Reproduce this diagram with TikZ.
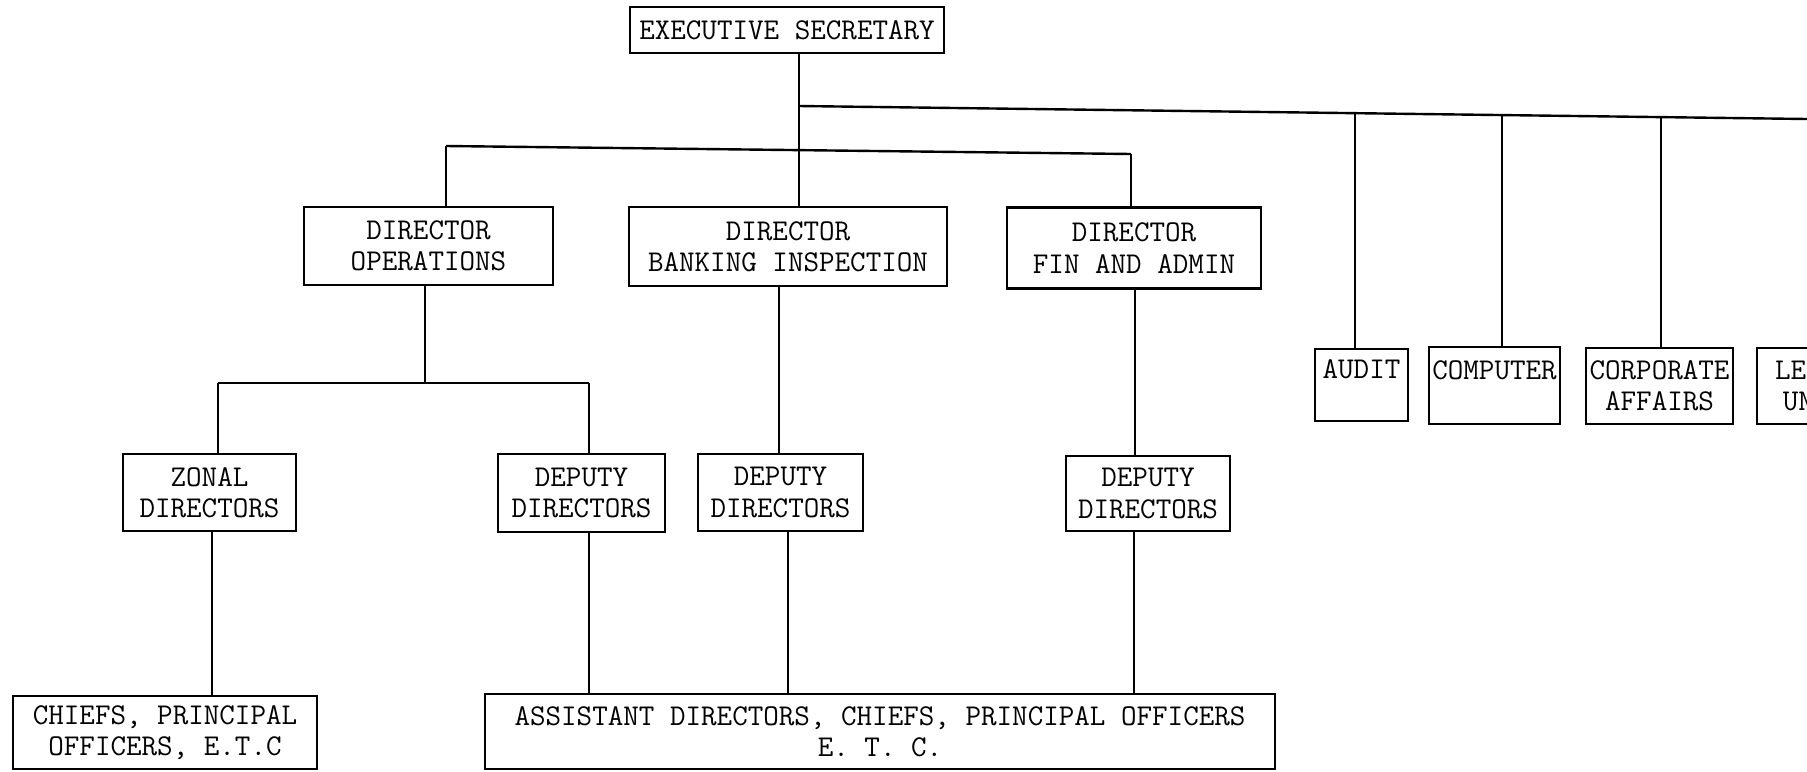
\documentclass[tikz,border=0pt]{standalone}
\begin{document}
\begin{tikzpicture}[x=0.5pt,y=-0.5pt,
  box/.style={draw, line width=1.3pt, inner sep=0pt, align=center,
    font=\ttfamily\fontsize{15.1}{15.6}\selectfont},
  conn/.style={line width=1.2pt}]
\useasboundingbox (0,0) rectangle (1807,771);
\clip (0,0) rectangle (1807,771);
% boxes
\node[box, minimum width=157pt, minimum height=23pt] (exec) at (787,30) {EXECUTIVE SECRETARY};
\node[box, minimum width=124.5pt, minimum height=39pt] (ops) at (428.5,246) {DIRECTOR\\OPERATIONS};
\node[box, minimum width=159pt, minimum height=39.5pt] (bank) at (788,246.5) {DIRECTOR\\BANKING INSPECTION};
\node[box, minimum width=127pt, minimum height=40.5pt] (fin) at (1134,248) {DIRECTOR\\FIN AND ADMIN};
\node[box, minimum width=86.5pt, minimum height=38.5pt] (zonal) at (209.5,492.5) {ZONAL\\DIRECTORS};
\node[box, minimum width=83.5pt, minimum height=39pt] (dep1) at (581.5,493) {DEPUTY\\DIRECTORS};
\node[box, minimum width=82.5pt, minimum height=38.5pt] (dep2) at (780.5,492.5) {DEPUTY\\DIRECTORS};
\node[box, minimum width=82pt, minimum height=37.5pt] (dep3) at (1148,493.5) {DEPUTY\\DIRECTORS};
\node[box, minimum width=152pt, minimum height=36.5pt] (chiefs) at (165,732.5) {CHIEFS, PRINCIPAL\\OFFICERS, E.T.C};
\node[box, minimum width=395pt, minimum height=37.5pt] (assist) at (880,731.5) {ASSISTANT DIRECTORS, CHIEFS, PRINCIPAL OFFICERS\\E. T. C.};
\node[box, minimum width=46.5pt, minimum height=36pt] (audit) at (1361.5,385) {AUDIT\\\phantom{A}};
\node[box, minimum width=65.5pt, minimum height=38.5pt] (comp) at (1494.5,385.5) {COMPUTER\\\phantom{A}};
\node[box, minimum width=73.5pt, minimum height=38pt] (corp) at (1659.5,386) {CORPORATE\\AFFAIRS};
\node[box, minimum width=57pt, minimum height=38pt] (legal) at (1814,386) {LEGAL\\UNIT};
% junction coordinates
\coordinate (j0) at (799,106);
\coordinate (jR) at (1807,119);
\coordinate (ja) at (1355,113);
\coordinate (jc) at (1502,115);
\coordinate (jp) at (1661,117);
\coordinate (jl) at (446,146);
\coordinate (jr) at (1131,154);
\coordinate (jo) at (425,383);
\coordinate (jz) at (218,383);
\coordinate (jd) at (589,383);
% connectors
\draw[conn] (exec.south -| j0) -- (bank.north -| j0);
\draw[conn] (j0) -- (jR);
\draw[conn] (ja) -- (audit.north -| ja);
\draw[conn] (jc) -- (comp.north -| jc);
\draw[conn] (jp) -- (corp.north -| jp);
\draw[conn] (jl) -- (jr);
\draw[conn] (jl) -- (ops.north -| jl);
\draw[conn] (jr) -- (fin.north -| jr);
\draw[conn] (ops.south -| jo) -- (jo);
\draw[conn] (jz) -- (jd);
\draw[conn] (jz) -- (zonal.north -| jz);
\draw[conn] (jd) -- (dep1.north -| jd);
\draw[conn] ([xshift=-4.5pt]bank.south) -- ([xshift=-0.75pt]dep2.north);
\draw[conn] ([xshift=0.5pt]fin.south) -- ([xshift=-6.5pt]dep3.north);
\draw[conn] ([xshift=1.25pt]zonal.south) -- ([xshift=23.5pt]chiefs.north);
\draw[conn] ([xshift=3.75pt]dep1.south) -- ([xshift=-145.5pt]assist.north);
\draw[conn] ([xshift=3.75pt]dep2.south) -- ([xshift=-46pt]assist.north);
\draw[conn] ([xshift=-7pt]dep3.south) -- ([xshift=127pt]assist.north);
\end{tikzpicture}
\end{document}
